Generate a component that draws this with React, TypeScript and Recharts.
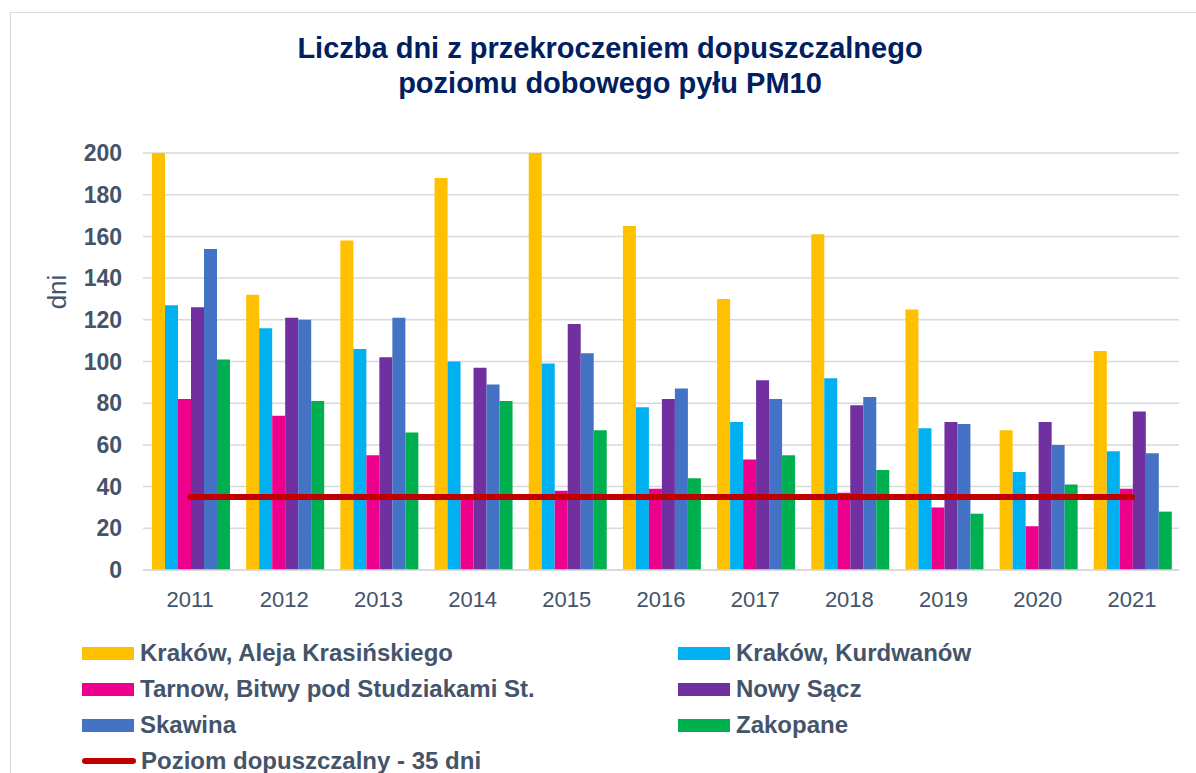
import { ComposedChart, Bar, Line, XAxis, YAxis, CartesianGrid, Legend } from 'recharts';

const years = ['2011', '2012', '2013', '2014', '2015', '2016', '2017', '2018', '2019', '2020', '2021'];
const krakowKrasinskiego = [200, 132, 158, 188, 200, 165, 130, 161, 125, 67, 105];
const krakowKurdwanow = [127, 116, 106, 100, 99, 78, 71, 92, 68, 47, 57];
const tarnow = [82, 74, 55, 36, 38, 39, 53, 37, 30, 21, 39];
const nowySacz = [126, 121, 102, 97, 118, 82, 91, 79, 71, 71, 76];
const skawina = [154, 120, 121, 89, 104, 87, 82, 83, 70, 60, 56];
const zakopane = [101, 81, 66, 81, 67, 44, 55, 48, 27, 41, 28];
const limitValue = 35;
const yTicks = [0, 20, 40, 60, 80, 100, 120, 140, 160, 180, 200];

const FONT = '"Liberation Sans", Arial, sans-serif';
const TEXT = '#44546A';

// legend follows series order, recharts 3 sorts it otherwise
const seriesOrder = ['krasinskiego', 'kurdwanow', 'tarnow', 'nowySacz', 'skawina', 'zakopane', 'limit'];

const data = years.map((year, i) => ({
  year,
  krasinskiego: krakowKrasinskiego[i],
  kurdwanow: krakowKurdwanow[i],
  tarnow: tarnow[i],
  nowySacz: nowySacz[i],
  skawina: skawina[i],
  zakopane: zakopane[i],
  limit: limitValue,
}));

// two-column legend like the Excel original
function renderLegend(props: any) {
  const items = [...(props.payload || [])].sort(
    (a: any, b: any) => seriesOrder.indexOf(a.dataKey) - seriesOrder.indexOf(b.dataKey)
  );
  return (
    <div
      style={{
        display: 'grid',
        gridTemplateColumns: '596px 500px',
        paddingLeft: 82,
        fontFamily: FONT,
        fontWeight: 'bold',
        fontSize: 24,
        color: TEXT,
      }}
    >
      {items.map((entry: any) => (
        <div key={entry.value} style={{ display: 'flex', alignItems: 'center', height: 36 }}>
          {entry.type === 'line' ? (
            <span style={{ width: 54, height: 6, borderRadius: 3, background: entry.color, marginRight: 5 }} />
          ) : (
            <span style={{ width: 52, height: 13, background: entry.color, marginRight: 6 }} />
          )}
          <span style={{ whiteSpace: 'nowrap' }}>{entry.value}</span>
        </div>
      ))}
    </div>
  );
}

export default function App() {
  return (
    <div style={{ position: 'absolute', left: 0, top: 0, width: 1196, height: 773, overflow: 'hidden', background: '#fff' }}>
      <div
        style={{
          position: 'absolute',
          left: 10,
          top: 12,
          width: 1400,
          height: 1000,
          border: '1px solid #d9d9d9',
        }}
      />
      <div
        style={{
          position: 'absolute',
          left: 0,
          width: 1220,
          top: 31,
          textAlign: 'center',
          fontFamily: FONT,
          fontWeight: 'bold',
          fontSize: 29,
          lineHeight: '35px',
          color: '#002060',
        }}
      >
        Liczba dni z przekroczeniem dopuszczalnego
        <br />
        poziomu dobowego pyłu PM10
      </div>
      <div style={{ position: 'absolute', left: 0, top: 0 }}>
        <ComposedChart
          width={1196}
          height={773}
          data={data}
          margin={{ top: 153, right: 17, bottom: 163, left: 0 }}
          barCategoryGap={9}
          barGap={0}
        >
          <CartesianGrid vertical={false} stroke="#d9d9d9" strokeWidth={1.5} />
          <XAxis
            dataKey="year"
            height={40}
            axisLine={{ stroke: '#d9d9d9', strokeWidth: 1.5 }}
            tickLine={false}
            tickMargin={15}
            tick={{ fill: TEXT, fontSize: 22, fontFamily: FONT }}
          />
          <YAxis
            width={143}
            domain={[0, 200]}
            ticks={yTicks}
            interval={0}
            axisLine={false}
            tickLine={false}
            tickMargin={15}
            tick={{ fill: TEXT, fontSize: 23, fontWeight: 'bold', fontFamily: FONT }}
            label={{
              value: 'dni',
              content: () => (
                <text
                  x={66}
                  y={292}
                  transform="rotate(-90 66 292)"
                  textAnchor="middle"
                  fill={TEXT}
                  fontSize={26}
                  fontFamily={FONT}
                >
                  dni
                </text>
              ),
            }}
          />
          <Legend
            layout="horizontal"
            verticalAlign="middle"
            align="center"
            wrapperStyle={{ top: 635, left: 0, width: 1196 }}
            content={renderLegend}
          />
          <Bar dataKey="krasinskiego" name="Kraków, Aleja Krasińskiego" fill="#FFC000" isAnimationActive={false} />
          <Bar dataKey="kurdwanow" name="Kraków, Kurdwanów" fill="#00B0F0" isAnimationActive={false} />
          <Bar dataKey="tarnow" name="Tarnow, Bitwy pod Studziakami St." fill="#EC008C" isAnimationActive={false} />
          <Bar dataKey="nowySacz" name="Nowy Sącz" fill="#7030A0" isAnimationActive={false} />
          <Bar dataKey="skawina" name="Skawina" fill="#4472C4" isAnimationActive={false} />
          <Bar dataKey="zakopane" name="Zakopane" fill="#00B050" isAnimationActive={false} />
          <Line
            dataKey="limit"
            name="Poziom dopuszczalny - 35 dni"
            stroke="#C00000"
            strokeWidth={6}
            strokeLinecap="round"
            dot={false}
            activeDot={false}
            legendType="line"
            isAnimationActive={false}
          />
        </ComposedChart>
      </div>
    </div>
  );
}
